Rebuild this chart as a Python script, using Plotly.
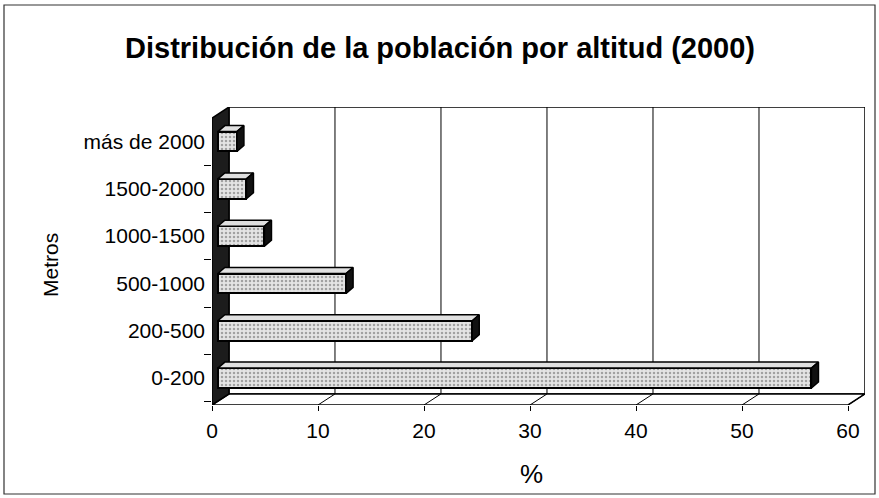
import plotly.graph_objects as go

# ---------------- data ----------------
categories = ["0-200", "200-500", "500-1000", "1000-1500", "1500-2000", "más de 2000"]
values = [56.0, 24.0, 12.1, 4.4, 2.7, 1.8]
x_ticks = [0, 10, 20, 30, 40, 50, 60]

title_text = "Distribución de la población por altitud (2000)"
x_title = "%"
y_title = "Metros"

# ---------------- geometry of the pseudo-3D frame ----------------
W, H = 879, 498
X_MAX = 60
DX = 1.6      # depth offset (x units)
DY = 0.233    # depth offset (y units)
Y0, Y1 = -0.57, 5.73
BAR_BASE = 0.55          # front face of bars sits a little into the depth
BAR_W = 0.42             # bar height (category units)
BDX, BDY = 0.66, 0.127   # bar depth
FONT = "Liberation Sans, Arial, sans-serif"

pos = list(range(len(categories)))

fig = go.Figure()

# front faces of the bars (dotted fill)
fig.add_trace(go.Bar(
    x=values, y=pos, base=BAR_BASE, orientation="h", width=BAR_W,
    marker=dict(
        color="#e6e6e6",
        line=dict(color="black", width=2),
        pattern=dict(shape=".", fgcolor="#5e5e5e", bgcolor="#e4e4e4", size=4, solidity=0.3),
    ),
    hoverinfo="skip", showlegend=False,
))

# top and side faces of bars
top_x, top_y, side_x, side_y = [], [], [], []
for p, v in zip(pos, values):
    yt = p + BAR_W / 2
    yb = p - BAR_W / 2
    xe = BAR_BASE + v
    top_x += [BAR_BASE, xe, xe + BDX, BAR_BASE + BDX, BAR_BASE, None]
    top_y += [yt, yt, yt + BDY, yt + BDY, yt, None]
    side_x += [xe, xe, xe + BDX, xe + BDX, xe, None]
    side_y += [yb, yt, yt + BDY, yb + BDY, yb, None]

fig.add_trace(go.Scatter(x=top_x, y=top_y, mode="lines", fill="toself",
                         fillcolor="#e0e0e0", line=dict(color="black", width=1.5),
                         hoverinfo="skip", showlegend=False))
fig.add_trace(go.Scatter(x=side_x, y=side_y, mode="lines", fill="toself",
                         fillcolor="#111111", line=dict(color="black", width=1.5),
                         hoverinfo="skip", showlegend=False))

shapes = []
# back wall
shapes.append(dict(type="rect", xref="x", yref="y", x0=DX, x1=X_MAX + DX, y0=Y0 + DY, y1=Y1,
                   line=dict(color="black", width=1.5), fillcolor="white", layer="below"))
# gridlines on back wall
for k in x_ticks[1:-1]:
    shapes.append(dict(type="line", xref="x", yref="y", x0=k + DX, x1=k + DX, y0=Y0 + DY, y1=Y1,
                       line=dict(color="black", width=1), layer="below"))
# floor
shapes.append(dict(type="path", xref="x", yref="y",
                   path=f"M 0,{Y0} L {X_MAX},{Y0} L {X_MAX + DX},{Y0 + DY} L {DX},{Y0 + DY} Z",
                   line=dict(color="black", width=1.5), fillcolor="white", layer="below"))
for k in x_ticks[1:]:
    shapes.append(dict(type="line", xref="x", yref="y", x0=k, x1=k + DX, y0=Y0, y1=Y0 + DY,
                       line=dict(color="black", width=1), layer="below"))
# left wall (dark)
shapes.append(dict(type="path", xref="x", yref="y",
                   path=f"M 0,{Y0} L {DX},{Y0 + DY} L {DX},{Y1} L 0,{Y1 - DY} Z",
                   line=dict(color="black", width=1.5), fillcolor="#1c1c1c", layer="below"))

# outer frame of the chart (paper coords)
L, R, T, B = 212, 14, 107, 93
pw, ph = W - L - R, H - T - B
def px2paper_x(px):
    return (px - L) / pw
def px2paper_y(py):
    return (H - B - py) / ph
shapes.append(dict(type="rect", xref="paper", yref="paper",
                   x0=px2paper_x(4), x1=px2paper_x(875), y0=px2paper_y(494), y1=px2paper_y(5),
                   line=dict(color="#333333", width=1.2), fillcolor="rgba(0,0,0,0)", layer="below"))

annotations = [
    dict(text=f"<b>{title_text}</b>", xref="paper", yref="paper",
         x=px2paper_x(440), y=px2paper_y(48), xanchor="center", yanchor="middle",
         showarrow=False, font=dict(family=FONT, size=29, color="black")),
    dict(text=x_title, xref="paper", yref="paper",
         x=px2paper_x(531), y=px2paper_y(474), xanchor="center", yanchor="middle",
         showarrow=False, font=dict(family=FONT, size=26, color="black")),
    dict(text=y_title, xref="paper", yref="paper", textangle=-90,
         x=px2paper_x(50), y=px2paper_y(265), xanchor="center", yanchor="middle",
         showarrow=False, font=dict(family=FONT, size=21, color="black")),
]

fig.update_layout(
    width=W, height=H,
    margin=dict(l=L, r=R, t=T, b=B),
    paper_bgcolor="white", plot_bgcolor="white",
    shapes=shapes, annotations=annotations,
    bargap=0,
    font=dict(family=FONT, color="black"),
    xaxis=dict(range=[0, X_MAX + DX], tickvals=x_ticks, ticktext=[str(t) for t in x_ticks],
               ticks="outside", ticklen=5, tickcolor="black", showgrid=False, zeroline=False,
               showline=False, tickfont=dict(size=21, family=FONT, color="black"),
               ticklabelstandoff=2, fixedrange=True),
    yaxis=dict(range=[Y0, Y1], tickvals=pos, ticktext=categories, ticks="",
               showgrid=False, zeroline=False, showline=False,
               tickfont=dict(size=21, family=FONT, color="black"), ticklabelstandoff=6,
               minor=dict(tickvals=[p + 0.5 for p in pos[:-1]] + [-0.5],
                          ticks="outside", ticklen=7, tickcolor="black", tickwidth=1),
               fixedrange=True),
)

fig.write_html("out.html", config={"displayModeBar": False},
               post_script="document.body.style.margin='0';")
